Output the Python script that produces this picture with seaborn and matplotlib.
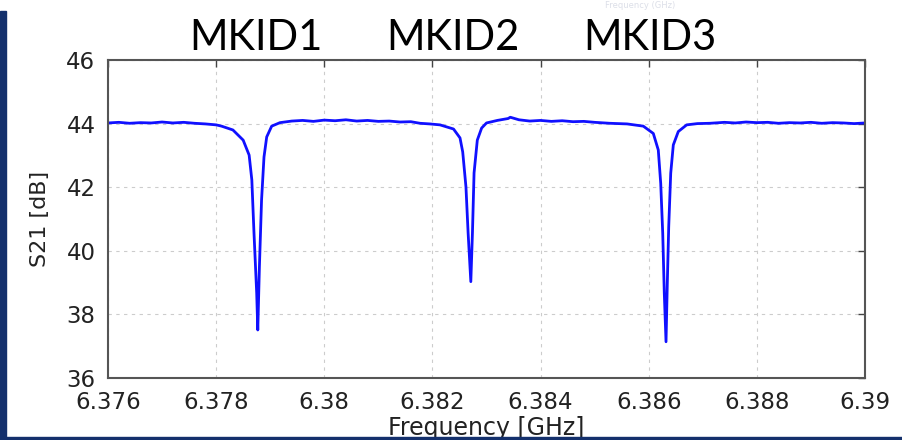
import matplotlib
matplotlib.use("Agg")
import matplotlib.pyplot as plt
import seaborn as sns
import pandas as pd
from matplotlib.patches import Rectangle

# ---- data ----
freq_ghz = [
    6.3760, 6.3762, 6.3764, 6.3766, 6.3768, 6.3770, 6.3772, 6.3774, 6.3776, 6.3778,
    6.3780, 6.3781, 6.37831, 6.37850, 6.37861, 6.37866, 6.37870, 6.37875, 6.37877,
    6.37880, 6.37884, 6.378885, 6.378935, 6.379027, 6.379181, 6.3794, 6.3796, 6.3798,
    6.3800, 6.3802, 6.3804, 6.3806, 6.3808, 6.3810, 6.3812, 6.3814, 6.3816, 6.38177,
    6.38195, 6.38214, 6.38239, 6.38251, 6.38256, 6.38262, 6.38266, 6.38271, 6.38274,
    6.38277, 6.38283, 6.38291, 6.38300, 6.3832, 6.3834, 6.38344, 6.3836, 6.3838,
    6.3840, 6.3842, 6.3844, 6.3846, 6.3848, 6.3850, 6.38528, 6.3856, 6.38590,
    6.386085, 6.386177, 6.386222, 6.386259, 6.386288, 6.386320, 6.386344, 6.386370,
    6.386407, 6.386455, 6.386547, 6.386702, 6.3869, 6.387133, 6.3874, 6.3876, 6.3878,
    6.3880, 6.3882, 6.3884, 6.3886, 6.3888, 6.3890, 6.3892, 6.3894, 6.3896, 6.3898,
    6.3900,
]
s21_db = [
    44.02, 44.04, 44.01, 44.03, 44.02, 44.05, 44.02, 44.04, 44.01, 43.99,
    43.96, 43.92, 43.80, 43.48, 43.01, 42.23, 40.56, 38.67, 37.51,
    39.49, 41.60, 42.95, 43.58, 43.92, 44.03, 44.08, 44.10, 44.07,
    44.11, 44.09, 44.12, 44.08, 44.10, 44.07, 44.08, 44.05, 44.06, 44.01,
    43.99, 43.96, 43.83, 43.55, 43.11, 42.01, 40.56, 39.03, 40.56,
    42.45, 43.48, 43.86, 44.02, 44.10, 44.16, 44.20, 44.12, 44.08,
    44.10, 44.07, 44.09, 44.06, 44.07, 44.04, 44.01, 43.99, 43.92,
    43.69, 43.17, 42.12, 40.56, 38.67, 37.14, 38.99, 40.76,
    42.44, 43.33, 43.75, 43.96, 44.00, 44.01, 44.04, 44.02, 44.05,
    44.03, 44.04, 44.01, 44.03, 44.02, 44.04, 44.01, 44.03, 44.02, 44.00,
    44.02,
]
x_ticks = [6.376, 6.378, 6.380, 6.382, 6.384, 6.386, 6.388, 6.390]
x_tick_labels = ["6.376", "6.378", "6.38", "6.382", "6.384", "6.386", "6.388", "6.39"]
y_ticks = [36, 38, 40, 42, 44, 46]
mkid_labels = ["MKID1", "MKID2", "MKID3"]

df = pd.DataFrame({"Frequency": freq_ghz, "S21": s21_db})

sns.set_theme(style="white")
plt.rcParams["font.family"] = ["DejaVu Sans"]

W, H = 903, 440
fig = plt.figure(figsize=(W / 100, H / 100), dpi=100)
fig.patch.set_facecolor("white")

ax = fig.add_axes([108 / W, 62 / H, 757 / W, 318 / H])
sns.lineplot(data=df, x="Frequency", y="S21", ax=ax, color="#1010ff",
             linewidth=2.0, sort=False, estimator=None)

ax.set_xlim(6.376, 6.390)
ax.set_ylim(36, 46)
ax.set_xticks(x_ticks)
ax.set_xticklabels(x_tick_labels)
ax.set_yticks(y_ticks)
ax.tick_params(direction="in", length=5, width=1, colors="#444444",
               top=True, right=True, labelsize=16.5, labelcolor="#222222", pad=9)
ax.grid(True, linestyle=(0, (3, 4)), color="#cccccc", linewidth=0.8)
for sp in ax.spines.values():
    sp.set_color("#555555")
    sp.set_linewidth(1.5)
ax.set_xlabel("Frequency [GHz]", fontsize=17, color="#222222", labelpad=2)
ax.set_ylabel("S21 [dB]", fontsize=16, color="#222222", labelpad=12)

# MKID labels above the axes
for lab, xc in zip(mkid_labels, [256, 453, 650]):
    fig.text(xc / W, 1 - 50 / H, lab, ha="center", va="baseline",
             fontsize=30, family=["Lato", "DejaVu Sans"], color="black")

# faint ghost text at top edge
fig.text(640 / W, 1 - 0.5 / H, "Frequency (GHz)", ha="center", va="top",
         fontsize=6, color="#dcdfe8")

# dark blue frame bars (left and bottom)
fig.add_artist(Rectangle((0, 0), 6 / W, 429 / H, transform=fig.transFigure,
                         color="#14306c", zorder=10))
fig.add_artist(Rectangle((0, 0), 1, 3 / H, transform=fig.transFigure,
                         color="#14306c", zorder=10))

fig.savefig("out.png", dpi=100)
